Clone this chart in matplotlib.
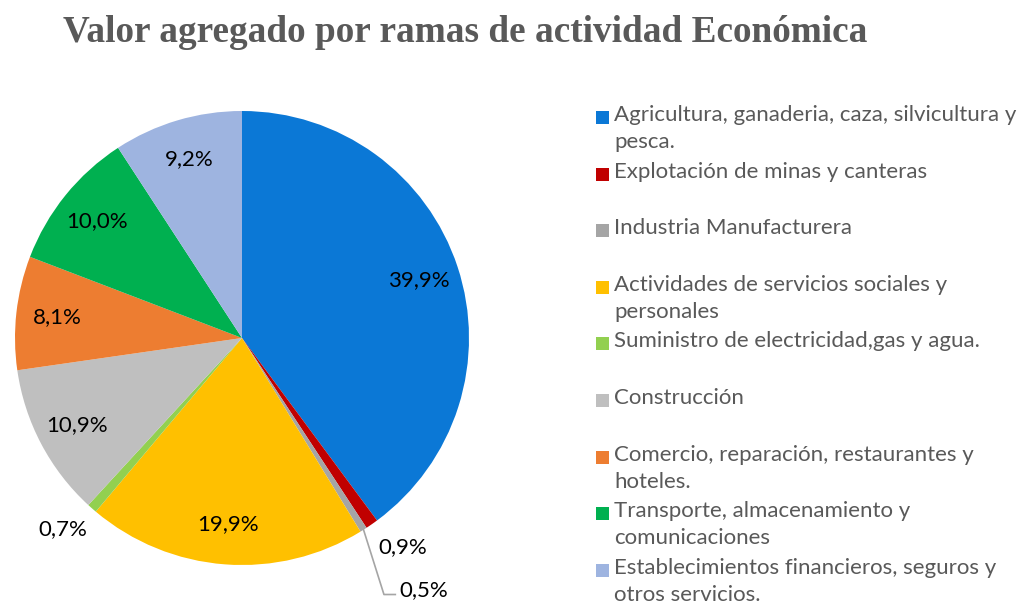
import numpy as np
import matplotlib.pyplot as plt
from matplotlib.patches import Rectangle

# --- datos ---
ramas = [
    "Agricultura, ganaderia, caza, silvicultura y\npesca.",
    "Explotación de minas y canteras",
    "Industria Manufacturera",
    "Actividades de servicios sociales y\npersonales",
    "Suministro de electricidad,gas y agua.",
    "Construcción",
    "Comercio, reparación, restaurantes y\nhoteles.",
    "Transporte, almacenamiento y\ncomunicaciones",
    "Establecimientos financieros, seguros y\notros servicios.",
]
porcentajes = [39.9, 0.9, 0.5, 19.9, 0.7, 10.9, 8.1, 10.0, 9.2]
colores = ['#0B78D6', '#C00000', '#A5A5A5', '#FFC000', '#92D050',
           '#BFBFBF', '#ED7D31', '#00B050', '#9EB4E0']

W, H = 1021, 607
fig = plt.figure(figsize=(W / 100, H / 100), dpi=100)
fig.patch.set_facecolor('white')

# --- pastel ---
cx, cy, r = 242, 338, 227
ax = fig.add_axes([(cx - r) / W, (H - cy - r) / H, 2 * r / W, 2 * r / H])
wedges, _ = ax.pie(porcentajes, colors=colores, startangle=90, counterclock=False,
                   radius=1, wedgeprops=dict(linewidth=0))
ax.set_xlim(-1, 1)
ax.set_ylim(-1, 1)
ax.set_aspect('equal')
ax.axis('off')

fuente = 'Lato'
col_txt = '#000000'
fs = 16
for w, p in zip(wedges, porcentajes):
    ang = np.deg2rad((w.theta1 + w.theta2) / 2)
    txt = f"{p:.1f}".replace('.', ',') + '%'
    if p >= 2:
        d = 0.82
        ax.text(d * np.cos(ang), d * np.sin(ang), txt, ha='center', va='center',
                fontsize=fs, family=fuente, color=col_txt)
    elif p == 0.9:
        ax.text(1.17 * np.cos(ang) + 0.04, 1.17 * np.sin(ang) + 0.04, txt,
                ha='center', va='center', fontsize=fs, family=fuente, color=col_txt,
                clip_on=False)
    elif p == 0.7:
        ax.text(1.15 * np.cos(ang) - 0.03, 1.15 * np.sin(ang) + 0.02, txt,
                ha='center', va='center', fontsize=fs, family=fuente, color=col_txt,
                clip_on=False)
    else:
        ex, ey = np.cos(ang), np.sin(ang)
        kx, ky = ex + 0.09, -1.13
        ax.plot([ex, kx, kx + 0.05], [ey, ky, ky], color='#A5A5A5', lw=1.2,
                clip_on=False)
        ax.text(kx + 0.07, ky + 0.02, txt, ha='left', va='center', fontsize=fs,
                family=fuente, color=col_txt, clip_on=False)

# --- titulo ---
fig.text(465 / W, 1 - 32 / H, "Valor agregado por ramas de actividad Económica",
         ha='center', va='center', fontsize=26.8, fontweight='bold',
         family='Liberation Serif', color='#595959')

# --- leyenda ---
y0, paso = 117, 56.6
for i, (lab, c) in enumerate(zip(ramas, colores)):
    y = y0 + i * paso
    fig.patches.append(Rectangle((596 / W, 1 - (y + 7) / H), 13 / W, 13 / H,
                                 transform=fig.transFigure, facecolor=c,
                                 edgecolor='none'))
    fig.text(614 / W, 1 - (y - 12) / H, lab, ha='left', va='top', fontsize=fs,
             family=fuente, color='#595959', linespacing=1.45)

fig.savefig('out.png', dpi=100)
